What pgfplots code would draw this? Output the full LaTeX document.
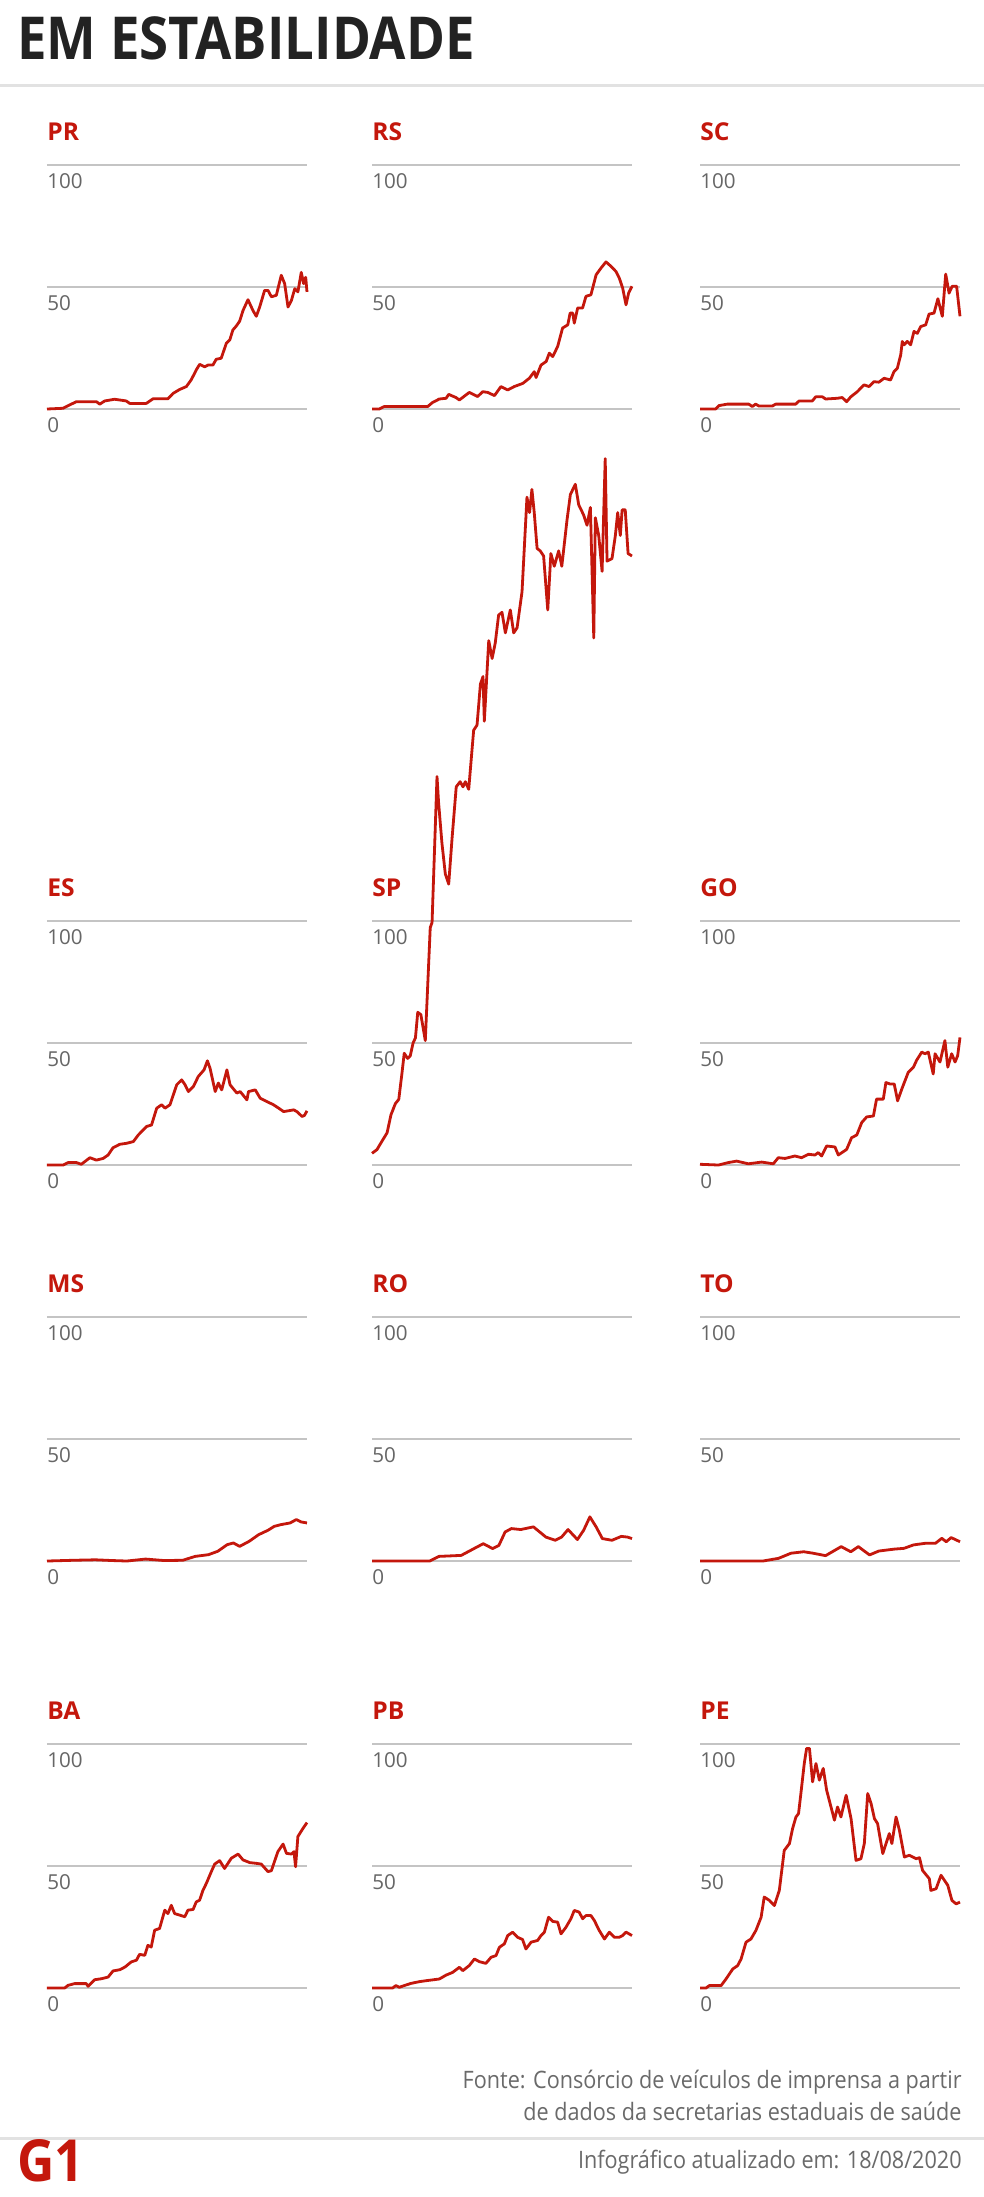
\documentclass[border=0pt]{standalone}
\usepackage{pgfplots}
\pgfplotsset{compat=1.18}
\usepackage{fontspec}
\setmainfont{Open Sans}
\newfontfamily\condfont{Open Sans}[FakeStretch=0.9]
\newfontfamily\titlefont{Open Sans}[FakeStretch=0.89]
\definecolor{g1red}{HTML}{C4170C}
\definecolor{lblgray}{HTML}{666666}
\definecolor{gridgray}{HTML}{C4C4C4}
\definecolor{ttl}{HTML}{222222}
\definecolor{rulegray}{HTML}{E2E2E2}
\definecolor{footgray}{HTML}{6A6A6A}
\pgfplotsset{
  panel/.style={
    anchor=south west, scale only axis, width=130pt, height=122pt,
    xmin=0, xmax=100, ymin=0, ymax=100,
    axis line style={draw=none}, xtick=\empty, ytick={0,50,100},
    major tick length=0pt, ymajorgrids,
    grid style={draw=gridgray, line width=0.8pt},
    /pgf/number format/assume math mode=true,
    yticklabel style={anchor=north west, inner sep=0pt, yshift=-4pt, font=\fontsize{10.3pt}{11pt}\selectfont, text=lblgray},
    title style={at={(0,1)}, anchor=base west, inner sep=0pt, yshift=6.5pt, font=\bfseries\fontsize{12.3pt}{13pt}\selectfont, text=g1red},
    clip=false,
    cycle list={{draw=g1red, mark=none}},
    every axis plot post/.append style={draw=g1red, line width=1.4pt, line join=round, mark=none},
  }
}
\begin{document}
\begin{tikzpicture}
\path[use as bounding box] (0pt,0pt) rectangle (492pt,-1098.5pt);
\fill[white] (0pt,0pt) rectangle (492pt,-1098.5pt);
\node[anchor=base west, inner sep=0pt, text=ttl, font=\titlefont\bfseries\fontsize{29.6pt}{30pt}\selectfont] at (8.5pt,-29.5pt) {EM ESTABILIDADE};
\draw[rulegray, line width=1.5pt] (0pt,-42.5pt) -- (492pt,-42.5pt);

% Row 1
\begin{axis}[panel, at={(23.5pt,-204.5pt)}, title=PR]
\addplot coordinates {(0,0)(6.2,0.3)(7.4,1)(11.3,3)(19,3)(20.3,2)(22.2,3.3)(26,4)(30.5,3.3)(31.8,2.3)(38.2,2.3)(40.8,4.2)(46.5,4.2)(48.5,6.4)(51,8)(53.6,9.2)(55.5,12)(57.4,16)(58.7,18.3)(60.6,17.3)(61.9,18)(63.8,18)(65.1,20.4)(67,20.8)(69,27)(70.3,28.3)(71.5,32.4)(72.8,34)(74.1,36)(75.4,40.4)(77.3,44.8)(79.2,40.4)(80.5,38)(81.8,41.8)(83.7,48.6)(85,48.6)(86.3,46)(88.2,46.6)(90.1,54.8)(91.4,51.4)(92.7,41.8)(94,44.5)(95.3,49.3)(96.5,48)(97.8,56)(98.7,51.4)(99.5,54)(100,48)};
\end{axis}
\begin{axis}[panel, at={(186pt,-204.5pt)}, title=RS]
\addplot coordinates {(0,0)(2.8,0)(4.7,1)(21.4,1)(23.3,2.7)(25.9,4.1)(28.5,4.4)(29.5,6)(32.3,4.7)(33.6,3.7)(37.4,6.8)(40.6,5.1)(42.6,7.1)(44.5,6.8)(47.1,5.5)(49.6,9.2)(52.2,7.8)(54.7,9.2)(58,10.5)(60.5,12.6)(62.4,15.3)(63.1,12.9)(65,18)(67,19.5)(68.2,22.9)(69.5,21.5)(71.4,25.6)(73.3,33.2)(75.3,34.5)(76.2,39.3)(77.2,39.3)(77.8,35.2)(79.1,41.4)(81,41.4)(82.3,46.2)(84.2,46.8)(86.2,55)(88.1,57.8)(90,60.3)(91.9,58.5)(93.8,56.4)(95.1,53.7)(96.4,49.6)(97.7,42.7)(98.7,47.5)(100,50.3)};
\end{axis}
\begin{axis}[panel, at={(350pt,-204.5pt)}, title=SC]
\addplot coordinates {(0,0)(6,0)(7.3,1.4)(10.5,2)(18.8,2)(20.1,1)(21.4,2)(22.7,1.2)(27.8,1.2)(29.1,2)(36.8,2)(38.1,3.3)(43.2,3.3)(44.5,5)(47.1,5)(48.3,4.1)(52.8,4.4)(54.7,4.7)(56.4,3)(58,5)(60.5,7.1)(63.1,9.9)(65,9.2)(66.9,11.2)(68.8,11)(70.8,12.6)(73.3,11.9)(74.6,15.3)(75.9,16.7)(77.2,22.2)(77.8,27.7)(78.5,26.3)(79.7,27.7)(81,26.3)(82.3,31.8)(83.6,31)(84.9,33.8)(86.8,34.5)(88.1,38.9)(90,39.3)(91.5,45.2)(93.2,38)(94.5,55.3)(95.8,47.5)(97,50.3)(98.7,50.3)(100,38)};
\end{axis}

% Row 2
\begin{axis}[panel, at={(23.5pt,-582.5pt)}, title=ES]
\addplot coordinates {(0,0)(6.2,0)(8.1,1)(11.3,1)(13.2,0.3)(16.5,3)(19,2)(21.6,2.7)(23.5,4.1)(25.4,7.1)(28,8.5)(30.6,8.9)(33.2,9.6)(35.1,12.3)(38.3,15.8)(40.2,16.4)(42.2,23.3)(44.1,24.7)(45.4,23.3)(47.3,24.7)(49.9,32.9)(51.8,34.9)(53.1,32.9)(54.4,30.1)(56.3,32.2)(58.2,36.3)(60.4,39)(61.7,42.7)(62.7,39.7)(64.7,30.1)(65.9,33.6)(67.2,30.8)(69.2,39)(70.4,32.9)(73,29.5)(74.3,30.1)(76.9,26.7)(77.5,30.1)(80.1,30.8)(82,27.4)(84.6,26)(87.1,24.7)(89.1,23.3)(91,21.9)(94.9,22.6)(96.1,21.9)(98.1,19.9)(99,20.3)(100,22.2)};
\end{axis}
\begin{axis}[panel, at={(186pt,-582.5pt)}, title=SP]
\addplot coordinates {(0,4.8)(1.9,6.3)(3.8,9.7)(5.8,13.2)(7.3,20.6)(9,25.2)(10.3,26.9)(11.5,37.4)(12.4,45.8)(13.7,43.7)(14.7,44.7)(15.8,50)(16.7,52.1)(17.6,62.6)(18.8,61.6)(20.5,51)(22.4,97.3)(23.1,99.4)(25,159.2)(25.6,148.7)(26.9,131.9)(28.2,119.3)(29.5,115.1)(30.8,134)(32.4,155)(33.9,157.1)(35,155)(35.9,157.1)(37.2,154)(39.1,178.2)(40.4,180.3)(41.7,197.1)(42.7,200.2)(43.2,181.9)(44.9,214.9)(46.2,207.6)(47.4,213.9)(48.7,225.4)(50,226.5)(51.3,218.1)(53.2,227.5)(54.5,218.1)(55.8,220.2)(57.7,234.9)(59.6,273.7)(60.6,267.4)(61.5,276.9)(62.4,267.4)(63.5,252.7)(64.7,251.7)(66,249.6)(67.6,227.5)(68.8,250.6)(70.1,245.4)(71.8,251.7)(73,245.4)(75,264.3)(76.3,274.8)(78.2,279)(79.5,270.6)(81.4,266.4)(82.7,262.2)(84,269.5)(85.3,216)(85.9,265.3)(87.2,258)(88.5,243.3)(89.7,289.5)(90.4,247.5)(92.3,248.5)(93.6,258)(94.5,267.4)(95.5,258)(96.2,268.5)(97.4,268.5)(98.5,250.6)(100,249.6)};
\end{axis}
\begin{axis}[panel, at={(350pt,-582.5pt)}, title=GO]
\addplot coordinates {(0,0.3)(7.1,0)(10.9,1)(14.1,1.6)(18.6,0.5)(23.7,1.2)(28.2,0.5)(30.1,3)(32.7,2.7)(36.5,3.7)(39.1,3)(41.7,4.4)(44.2,4.1)(45.5,5.1)(46.8,3.7)(48.7,7.8)(51.9,7.4)(53.2,4.1)(56.4,6.4)(58.3,11.2)(60.3,12.3)(62.2,17.4)(64.1,19.7)(66.7,20.1)(67.9,27)(70.5,27)(71.5,33.8)(73.1,33.2)(74.7,33.2)(76,26.3)(77.6,31.1)(80.1,38)(82.1,40.1)(83.3,42.9)(85.3,46.3)(86.5,45.6)(87.8,46.3)(89.7,37.3)(90.4,45.6)(92.3,42.2)(94.2,51)(95.3,40.1)(96.8,45.6)(98.1,42.2)(99.1,44.8)(100,52.3)};
\end{axis}

% Row 3
\begin{axis}[panel, at={(23.5pt,-780.5pt)}, title=MS]
\addplot coordinates {(0,0)(10,0.3)(18.6,0.5)(25,0.2)(30.7,0)(37.9,0.8)(45,0.2)(52.2,0.3)(57,1.9)(62.1,2.6)(65.7,4)(69.3,6.7)(71.7,7.4)(74.1,6)(77.8,8.1)(81.4,10.8)(85,12.6)(87.4,14.2)(89.9,14.9)(93.5,15.6)(95.9,17)(97.8,16)(100,15.6)};
\end{axis}
\begin{axis}[panel, at={(186pt,-780.5pt)}, title=RO]
\addplot coordinates {(0,0)(22.2,0)(25.8,1.9)(34.3,2.3)(40.3,5.7)(42.8,7.1)(46.4,5.1)(48.8,6.4)(51.2,11.9)(53.6,13.3)(57.2,12.9)(62.1,14)(66.9,9.8)(70.5,8.5)(72.9,9.8)(75.4,12.9)(79,8.8)(81.4,12.6)(83.8,18.1)(86.2,14)(88.6,9.2)(92.3,8.5)(95.9,10.1)(98.3,9.8)(100,9.2)};
\end{axis}
\begin{axis}[panel, at={(350pt,-780.5pt)}, title=TO]
\addplot coordinates {(0,0)(24.2,0)(30.2,1.1)(35,3.2)(39.9,3.8)(43.5,3.2)(48.3,2.2)(54.3,5.9)(58,3.8)(60.9,5.9)(65.2,2.5)(68.8,4.1)(74.9,4.9)(78.5,5.2)(82.1,6.6)(86.9,7.3)(90.6,7.3)(93,9.3)(94.7,7.9)(96.6,9.6)(100,7.9)};
\end{axis}

% Row 4
\begin{axis}[panel, at={(23.5pt,-994pt)}, title=BA]
\addplot coordinates {(0,0)(6.8,0)(8.1,1.1)(10.6,1.8)(15.1,1.8)(15.8,0.7)(18.3,3.4)(20.9,3.8)(23.5,4.5)(25.4,7)(28,7.5)(30,8.6)(32.4,10.7)(34.4,11.4)(35.6,13.8)(37.6,13.4)(38.8,17.5)(40.1,16.8)(41.4,23.7)(43.3,24.4)(45.3,31.9)(46.5,30.5)(47.8,33.9)(49.1,30.5)(51,29.9)(53,29.2)(54.2,31.9)(56.2,32.2)(57.4,35.3)(58.7,36)(60,40.1)(61.3,42.9)(63.2,47.7)(64.5,50.8)(66.4,52.2)(68.3,49)(69.6,51.1)(70.9,53.2)(73.5,54.9)(75.4,52.5)(78,51.4)(80.5,51.1)(82.4,50.8)(85,47.7)(86.3,48.1)(88.8,55.9)(90.8,59)(92.1,55.2)(94,54.9)(95,55.9)(95.6,49.7)(96.5,62.1)(98.5,65.5)(100,67.8)};
\end{axis}
\begin{axis}[panel, at={(186pt,-994pt)}, title=PB]
\addplot coordinates {(0,0)(7.9,0)(9.2,1)(10.5,0.3)(12.4,1)(15,1.9)(18.2,2.6)(20.8,3)(25.9,3.7)(28.5,5.3)(31,6.4)(33.6,8.5)(34.9,7.1)(37.4,9.2)(39.4,11.9)(41.3,10.8)(43.8,10.1)(45.8,12.6)(47.7,13.3)(49,16.7)(50.9,18.1)(52.2,21.5)(54.1,22.9)(56,20.8)(57.9,19.9)(59.2,16)(61.2,18.8)(63.7,19.5)(65,21.5)(66.3,22.9)(67.9,29)(69.5,27.3)(71.4,27)(72.7,22.2)(74.6,24.9)(76.5,28.4)(77.8,31.8)(79.7,31.1)(81,28.4)(82.3,29.7)(84.2,29.7)(85.5,27.7)(87.4,23.6)(89.4,20.1)(91.3,22.9)(93.2,20.8)(95.1,20.8)(96.4,21.5)(97.7,22.9)(100,21.5)};
\end{axis}
\begin{axis}[panel, at={(350pt,-994pt)}, title=PE]
\addplot coordinates {(0,0)(2.3,0)(3.6,1)(8.1,1)(10,3.7)(12.6,7.8)(14.5,9.2)(15.8,11.9)(17.7,18.8)(19.6,20.1)(21.5,23.6)(23.5,29)(24.7,37.3)(26.7,35.9)(28.6,33.8)(30.5,40)(32.4,56.4)(34.4,59.2)(35.6,65.3)(36.9,70.1)(37.9,71.5)(38.8,79.7)(40.1,92)(41,98.2)(42.1,98.2)(43.3,84.5)(44.6,92)(45.9,85.2)(47.4,90)(48.7,81.1)(49.7,77)(51.7,68.8)(52.9,74.2)(54.2,70.1)(56.2,79)(58.1,69.4)(60,52.3)(61.9,53)(63.2,59.2)(64.5,79.7)(65.8,75.6)(67.1,69.4)(68.3,67.4)(70.3,55.1)(72.8,63.3)(73.8,59.2)(75.4,70.1)(76.7,64.6)(78.6,53.7)(80.5,54.4)(83.1,53)(84.4,53.4)(85.6,48.2)(88.2,44.8)(88.8,40)(90.8,40.7)(92.7,46.2)(95.3,42.1)(96.9,35.9)(98.5,34.5)(100,35.2)};
\end{axis}

% Footer
\node[anchor=base east, inner sep=0pt, text=footgray, font=\condfont\fontsize{12pt}{12pt}\selectfont] at (481pt,-1044pt) {Fonte: Consórcio de veículos de imprensa a partir};
\node[anchor=base east, inner sep=0pt, text=footgray, font=\condfont\fontsize{12pt}{12pt}\selectfont] at (481pt,-1060pt) {de dados da secretarias estaduais de saúde};
\draw[rulegray, line width=1.5pt] (0pt,-1069pt) -- (492pt,-1069pt);
\node[anchor=base east, inner sep=0pt, text=footgray, font=\condfont\fontsize{12pt}{12pt}\selectfont] at (481pt,-1084pt) {Infográfico atualizado em: 18/08/2020};
\node[anchor=base west, inner sep=0pt, text=g1red, font=\titlefont\bfseries\fontsize{29pt}{29pt}\selectfont] at (8.5pt,-1090.5pt) {G1};
\end{tikzpicture}
\end{document}
